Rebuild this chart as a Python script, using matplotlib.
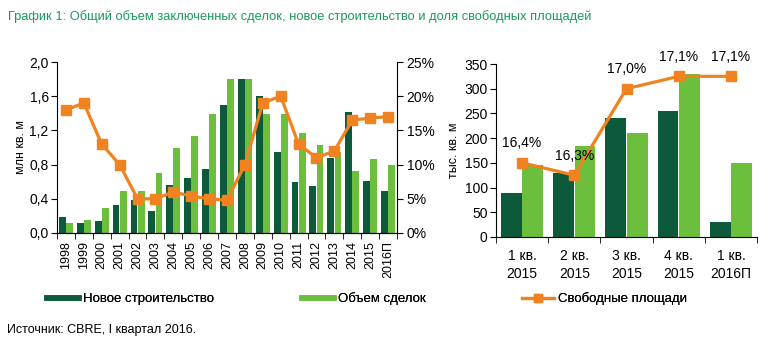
import matplotlib
matplotlib.use("Agg")
import matplotlib.pyplot as plt
from matplotlib.lines import Line2D
from matplotlib import font_manager as fm
import numpy as np

# ---------------- data ----------------
years = ["1998", "1999", "2000", "2001", "2002", "2003", "2004", "2005", "2006", "2007",
         "2008", "2009", "2010", "2011", "2012", "2013", "2014", "2015", "2016П"]
new_construction = [0.19, 0.12, 0.14, 0.33, 0.39, 0.26, 0.56, 0.645, 0.75, 1.50,
                    1.80, 1.60, 0.95, 0.60, 0.55, 0.88, 1.41, 0.61, 0.49]
deal_volume = [0.12, 0.15, 0.29, 0.49, 0.49, 0.70, 1.00, 1.13, 1.39, 1.80,
               1.80, 1.39, 1.39, 1.17, 1.03, 0.95, 0.73, 0.86, 0.80]
vacancy_pct = [18.0, 19.0, 13.0, 10.0, 5.0, 5.0, 6.0, 5.4, 5.0, 4.8,
               10.0, 19.0, 20.0, 13.0, 11.0, 12.0, 16.5, 16.8, 17.0]

quarters = ["1 кв.\n2015", "2 кв.\n2015", "3 кв.\n2015", "4 кв.\n2015", "1 кв.\n2016П"]
q_new_construction = [90, 130, 240, 255, 30]
q_deal_volume = [145, 185, 210, 330, 150]
q_vacancy_plot = [150, 125, 300, 325, 325]
q_vacancy_labels = ["16,4%", "16,3%", "17,0%", "17,1%", "17,1%"]

left_yticks = [0.0, 0.4, 0.8, 1.2, 1.6, 2.0]
right_pct_ticks = [0, 5, 10, 15, 20, 25]
q_yticks = [0, 50, 100, 150, 200, 250, 300, 350]

title = "График 1: Общий объем заключенных сделок, новое строительство и доля свободных площадей"
source = "Источник: CBRE, I квартал 2016."
legend_labels = ["Новое строительство", "Объем сделок", "Свободные площади"]

# ---------------- style ----------------
avail = {f.name for f in fm.fontManager.ttflist}
main_font = "Liberation Sans Narrow" if "Liberation Sans Narrow" in avail else "Liberation Sans"
plt.rcParams["font.family"] = [main_font, "DejaVu Sans"]
plt.rcParams["font.size"] = 10

DARK = "#0d5a3b"
LIGHT = "#6cbf3c"
ORANGE = "#f0821f"
TITLE_C = "#1a9a5c"

W, H = 772, 348
fig = plt.figure(figsize=(W / 100, H / 100), dpi=100)

def ax_rect(x0, y0, x1, y1):
    return [x0 / W, 1 - y1 / H, (x1 - x0) / W, (y1 - y0) / H]

# ---------------- left chart ----------------
ax = fig.add_axes(ax_rect(57, 62, 397, 233))
x = np.arange(len(years))
bw = 0.38
ax.bar(x - 0.2, new_construction, width=bw, color=DARK, zorder=2)
ax.bar(x + 0.2, deal_volume, width=bw, color=LIGHT, zorder=2)
ax.set_xlim(-0.5, len(years) - 0.5)
ax.set_ylim(0, 2.0)
ax.set_yticks(left_yticks)
ax.set_yticklabels([f"{v:.1f}".replace(".", ",") for v in left_yticks], fontsize=10)
ax.set_xticks(x)
ax.set_xticklabels(years, rotation=90, fontsize=9)
ax.set_xticks(np.arange(-0.5, len(years), 1.0), minor=True)
ax.tick_params(axis="x", which="major", length=0, pad=6)
ax.tick_params(axis="x", which="minor", length=4, direction="out")
ax.tick_params(axis="y", length=4, direction="out", pad=2)
ax.set_ylabel("млн кв. м", fontsize=9, labelpad=2)
for s in ["top", "right"]:
    ax.spines[s].set_visible(False)

ax2 = ax.twinx()
ax2.plot(x, vacancy_pct, color=ORANGE, lw=2.3, marker="s", ms=7.2, zorder=3)
ax2.set_ylim(0, 25)
ax2.set_yticks(right_pct_ticks)
ax2.set_yticklabels([f"{v}%" for v in right_pct_ticks], fontsize=10)
ax2.tick_params(axis="y", length=4, direction="out", pad=3)
ax2.spines["top"].set_visible(False)
ax2.spines["left"].set_visible(False)

# ---------------- right chart ----------------
bx = fig.add_axes(ax_rect(496, 64, 757, 237))
xq = np.arange(len(quarters))
bwq = 0.4
bx.bar(xq - 0.205, q_new_construction, width=bwq, color=DARK, zorder=2)
bx.bar(xq + 0.205, q_deal_volume, width=bwq, color=LIGHT, zorder=2)
bx.plot(xq, q_vacancy_plot, color=ORANGE, lw=2.3, marker="s", ms=7.0, zorder=3)
for xi, yi, lab in zip(xq, q_vacancy_plot, q_vacancy_labels):
    bx.annotate(lab, (xi, yi), xytext=(0, 14), textcoords="offset points",
                ha="center", va="center", fontsize=10, zorder=4)
bx.set_xlim(-0.5, len(quarters) - 0.5)
bx.set_ylim(0, 350)
bx.set_yticks(q_yticks)
bx.set_yticklabels([str(v) for v in q_yticks], fontsize=10)
bx.set_xticks(xq)
bx.set_xticklabels(quarters, fontsize=10, linespacing=1.3)
bx.set_xticks(np.arange(-0.5, len(quarters), 1.0), minor=True)
bx.tick_params(axis="x", which="major", length=0, pad=9)
bx.tick_params(axis="x", which="minor", length=4, direction="out")
bx.tick_params(axis="y", length=4, direction="out", pad=2)
bx.set_ylabel("тыс. кв. м", fontsize=9, labelpad=3)
for s in ["top", "right"]:
    bx.spines[s].set_visible(False)

# ---------------- title, legend, source ----------------
fig.text(8 / W, 1 - 17 / H, title, color=TITLE_C, fontsize=9.3, ha="left", va="center")

handles = [
    Line2D([], [], color=DARK, lw=4),
    Line2D([], [], color=LIGHT, lw=4),
    Line2D([], [], color=ORANGE, lw=2.3, marker="s", ms=6),
]
leg_x = [47, 302, 522]
for h, lab, lx in zip(handles, legend_labels, leg_x):
    lg = fig.legend([h], [lab], loc="center left", bbox_to_anchor=(lx / W, 1 - 299 / H),
                    frameon=False, fontsize=9.5, handlelength=2.4, handletextpad=0.3,
                    borderpad=0, borderaxespad=0)
    fig.add_artist(lg)

fig.text(7 / W, 1 - 330 / H, source, fontsize=9, ha="left", va="center")

fig.savefig("out.png", dpi=100)
